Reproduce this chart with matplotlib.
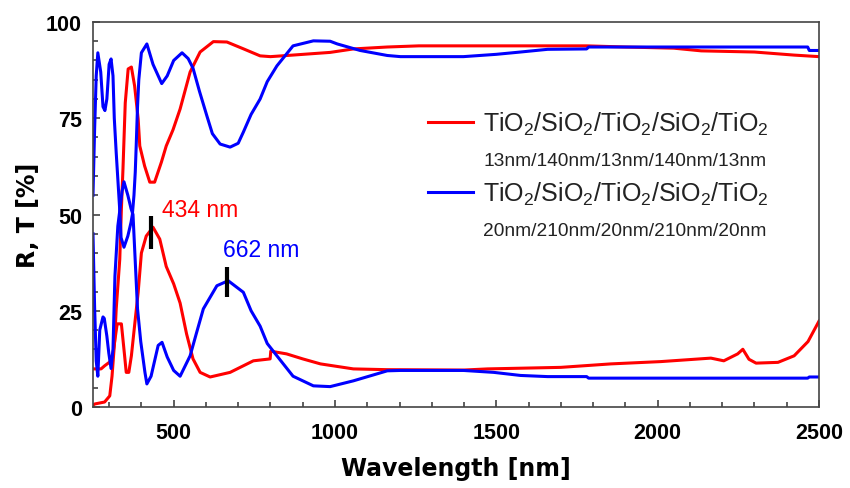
import matplotlib
matplotlib.use("Agg")
import matplotlib.pyplot as plt
from matplotlib.lines import Line2D
from matplotlib.ticker import MultipleLocator

plt.rcParams['font.family'] = ['Liberation Sans', 'DejaVu Sans']
plt.rcParams['mathtext.fontset'] = 'custom'
plt.rcParams['mathtext.rm'] = 'Liberation Sans'
plt.rcParams['mathtext.default'] = 'regular'

# red stack (13/140 nm), high curve
red_hi_nm = [250, 256, 286, 302, 309, 317, 322, 333, 338, 343, 350, 359, 369, 379,
             390, 395, 410, 426, 441, 462, 477, 498, 520, 551, 582, 623, 665, 717,
             768, 800, 852, 985, 1057, 1162, 1260, 1500, 1780, 1900, 2050, 2135,
             2300, 2423, 2500]
red_hi = [0.5, 0.8, 1.3, 2.9, 8, 17, 25.5, 38.4, 51.4, 62, 79, 87.8, 88.3, 83.4,
          74.8, 67.8, 62.6, 58.4, 58.4, 63.6, 67.8, 72, 77.4, 87, 92.2, 94.9, 94.8, 93,
          91.2, 91, 91.3, 92.1, 93, 93.5, 93.8, 93.8, 93.8, 93.5, 93.2, 92.5,
          92.2, 91.4, 91]

# red stack, low curve
red_lo_nm = [250, 275, 286, 302, 312, 325, 338, 348, 353, 361, 369, 380, 390, 400,
             415, 436, 457, 477, 500, 520, 540, 560, 582, 613, 675, 747, 799, 801,
             850, 900, 955, 1057, 1162, 1398, 1473, 1700, 1855, 2010, 2165, 2205,
             2248, 2264, 2283, 2305, 2373, 2423, 2466, 2500]
red_lo = [9.9, 9.9, 10.7, 11.7, 14, 21.6, 21.6, 13.3, 9, 9, 13.3, 22, 29.8, 40,
          44.4, 46.7, 43.6, 36.5, 32, 27, 19, 12.5, 9, 7.8, 9, 12, 12.5, 14.5,
          13.8, 12.5, 11.2, 9.9, 9.7, 9.6, 9.9, 10.3, 11.2, 11.8, 12.7, 12,
          13.8, 15, 12.4, 11.4, 11.6, 13.3, 17, 22.3]

# blue stack (20/210 nm), high curve
blue_hi_nm = [250, 255, 260, 265, 274, 281, 287, 293, 300, 306, 312, 316, 322, 333,
              337, 346, 358, 368, 372, 377, 381, 384, 388, 392, 400, 417, 436, 463,
              480, 500, 526, 545, 560, 580, 603, 620, 644, 675, 700, 716, 740, 768,
              790, 820, 870, 933, 985, 1007, 1078, 1162, 1203, 1398, 1500, 1575,
              1659, 1780, 1786, 2465, 2470, 2500]
blue_hi = [55, 72, 86, 92, 87, 78, 77, 80, 89, 90.4, 86, 75, 66, 51,
           44, 41.5, 44.4, 48, 50, 55, 61, 68, 78, 85, 92, 94.3, 89, 84,
           86, 90, 92, 90.5, 88, 82, 75.6, 71, 68.3, 67.5, 68.5, 71.4, 76, 80,
           84.5, 88.6, 93.8, 95.1, 95, 94.3, 92.6, 91.3, 91, 91, 91.6, 92.2,
           92.9, 93, 93.5, 93.5, 92.6, 92.6]

# blue stack, low curve
blue_lo_nm = [250, 255, 260, 265, 271, 281, 285, 293, 299, 306, 312, 318, 327, 333,
              340, 346, 358, 368, 374, 388, 398, 411, 417, 430, 452, 464, 480, 500,
              520, 551, 570, 592, 634, 669, 716, 740, 768, 790, 820, 870, 933, 985,
              1057, 1162, 1203, 1398, 1492, 1575, 1659, 1780, 1786, 2465, 2470, 2500]
blue_lo = [45, 26, 12, 8, 20, 23.4, 23, 18.4, 14, 10, 15, 34, 47, 51,
           56, 58.5, 55, 51.5, 50, 25.5, 17, 9, 6, 8, 16, 16.8, 13, 9.5,
           8, 13.3, 19, 25.5, 31.5, 32.8, 29.8, 25, 21, 16.5, 13.3, 8, 5.5, 5.3,
           6.8, 9.4, 9.5, 9.5, 9, 8.2, 7.9, 7.9, 7.5, 7.5, 7.8, 7.8]

legend_main = r'TiO$_2$/SiO$_2$/TiO$_2$/SiO$_2$/TiO$_2$'
legend_sub = ['13nm/140nm/13nm/140nm/13nm', '20nm/210nm/20nm/210nm/20nm']

# peak markers
peak_labels = ['434 nm', '662 nm']
peak_x = [430, 666]
peak_lo = [41, 28.6]
peak_hi = [49.6, 36.4]
label_xy = [(464, 51.4), (653, 40.8)]

red = '#ff0000'
blue = '#0000ff'

fig = plt.figure(figsize=(8.5, 4.89), dpi=100)
ax = fig.add_axes([0.1094, 0.1656, 0.8541, 0.7874])

l1, = ax.plot(red_hi_nm, red_hi, color=red, lw=2.2)
ax.plot(red_lo_nm, red_lo, color=red, lw=2.2)
l2, = ax.plot(blue_hi_nm, blue_hi, color=blue, lw=2.2)
ax.plot(blue_lo_nm, blue_lo, color=blue, lw=2.2)

ax.vlines(peak_x, peak_lo, peak_hi, color='black', lw=3)
for lab, (tx, ty), c in zip(peak_labels, label_xy, [red, blue]):
    ax.text(tx, ty, lab, color=c, fontsize=16.5, va='center', ha='left')

ax.set_xlim(250, 2500)
ax.set_ylim(0, 100)
ax.xaxis.set_major_locator(MultipleLocator(500))
ax.xaxis.set_minor_locator(MultipleLocator(100))
ax.yaxis.set_major_locator(MultipleLocator(25))
ax.yaxis.set_minor_locator(MultipleLocator(5))
ax.tick_params(which='both', direction='in', top=False, right=False,
               color='#333333', width=1.1)
ax.tick_params(which='major', length=5, labelsize=15.5)
ax.tick_params(axis='x', which='major', pad=11)
ax.tick_params(axis='y', which='major', pad=8)
ax.tick_params(which='minor', length=3.5)
for t in ax.get_xticklabels() + ax.get_yticklabels():
    t.set_fontweight('bold')
for s in ax.spines.values():
    s.set_color('#444444')
    s.set_linewidth(1.2)

ax.set_xlabel('Wavelength [nm]', fontsize=17, fontweight='bold',
              family='DejaVu Sans', labelpad=9)
ax.set_ylabel('R, T [%]', fontsize=17, fontweight='bold',
              family='DejaVu Sans', labelpad=4)

empty = Line2D([], [], color='none')
leg = ax.legend([l1, empty, l2, empty],
                [legend_main, legend_sub[0], legend_main, legend_sub[1]],
                loc='upper left', bbox_to_anchor=(0.461, 0.772), frameon=False,
                fontsize=18, handlelength=1.8, handletextpad=0.42,
                labelspacing=0.42, borderpad=0, borderaxespad=0)
for i, t in enumerate(leg.get_texts()):
    t.set_color('#222222')
    if i % 2 == 1:
        t.set_fontsize(13.8)

fig.savefig('out.png', dpi=100)
